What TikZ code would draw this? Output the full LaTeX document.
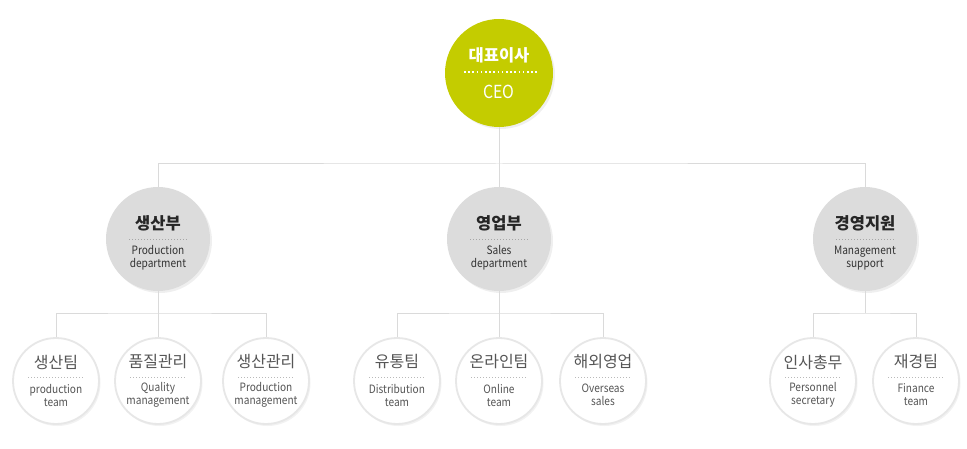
\documentclass[tikz,border=0pt]{standalone}
\usepackage{fontspec}
\setmainfont{Noto Sans CJK KR}
\newfontfamily\enfont{Noto Sans CJK KR}[FakeStretch=0.88]
\usetikzlibrary{shadows}
\definecolor{ceolime}{HTML}{C4CC00}
\definecolor{deptgray}{HTML}{DCDCDC}
\definecolor{linegray}{HTML}{DADADA}
\definecolor{rimgray}{HTML}{E7E7E7}
\definecolor{txtgray}{HTML}{555555}
\tikzset{
	conn/.style={draw=linegray,line width=1pt},
	ceobox/.style={circle,fill=ceolime,minimum size=108pt,inner sep=0pt,
		drop shadow={shadow xshift=2pt,shadow yshift=-2pt,opacity=0.12}},
	deptbox/.style={circle,fill=deptgray,minimum size=104pt,inner sep=0pt,
		drop shadow={shadow xshift=2pt,shadow yshift=-2pt,opacity=0.12}},
	teambox/.style={circle,fill=white,draw=rimgray,line width=1.8pt,minimum size=86pt,inner sep=0pt,
		drop shadow={shadow xshift=1.5pt,shadow yshift=-2pt,opacity=0.10}},
	krtitle/.style={font=\fontsize{16.5}{19}\selectfont\bfseries},
	entext/.style={font=\enfont\fontsize{11.5}{13}\selectfont,align=center,inner sep=0pt},
	sepline/.style={draw=gray!70,line width=0.6pt,dash pattern=on 1pt off 2pt}
}
\begin{document}
\begin{tikzpicture}[x=1pt,y=-1pt]
	\useasboundingbox[fill=white] (0,0) rectangle (967,449);
	% CEO
	\node[ceobox] (ceo) at (499,73) {};
	\node[krtitle,text=white] (ceo-kr) at (499,55) {대표이사};
	\draw[white,line width=1.8pt,dash pattern=on 1.6pt off 2.6pt] (464,72) -- (538,72);
	\node[font=\enfont\fontsize{18}{20}\selectfont,text=white] (ceo-en) at (499,92) {CEO};
	% departments
	\foreach \n/\x/\kr/\en in {prod/158/생산부/{Production\\department},
		sales/499/영업부/{Sales\\department},
		mgmt/865/경영지원/{Management\\support}}{
		\node[deptbox] (\n) at (\x,239) {};
		\node[krtitle,text=black!85] (\n-kr) at (\x,223) {\kr};
		\draw[sepline] (\x-29,239) -- (\x+29,239);
		\node[entext,text=black!80] (\n-en) at (\x,258) {\en};
	}
	% teams
	\foreach \n/\x/\kr/\en in {pteam/56/생산팀/{production\\team},
		qual/158/품질관리/{Quality\\management},
		pmgmt/266/생산관리/{Production\\management},
		dist/397/유통팀/{Distribution\\team},
		online/499/온라인팀/{Online\\team},
		oversea/603/해외영업/{Overseas\\sales},
		person/813/인사총무/{Personnel\\secretary},
		finance/916/재경팀/{Finance\\team}}{
		\node[teambox] (\n) at (\x,381) {};
		\node[font=\fontsize{16}{18}\selectfont,text=txtgray] (\n-kr) at (\x,362) {\kr};
		\draw[sepline,draw=gray!55] (\x-28,377) -- (\x+28,377);
		\node[entext,text=txtgray] (\n-en) at (\x,395) {\en};
	}
	% connectors
	\coordinate (topbus) at (499,164);
	\coordinate (pbus) at (158,313);
	\coordinate (sbus) at (499,313);
	\coordinate (mbus) at (865,313);
	\draw[conn] (ceo) -- (topbus);
	\draw[conn] (prod) |- (topbus) -| (mgmt);
	\draw[conn] (sales) -- (topbus);
	\draw[conn] (prod) -- (pbus);
	\draw[conn] (pteam) |- (pbus) -| (pmgmt);
	\draw[conn] (qual) -- (pbus);
	\draw[conn] (sales) -- (sbus);
	\draw[conn] (dist) |- (sbus) -| (oversea);
	\draw[conn] (online) -- (sbus);
	\draw[conn] (mgmt) -- (mbus);
	\draw[conn] (person) |- (mbus) -| (finance);
\end{tikzpicture}
\end{document}
